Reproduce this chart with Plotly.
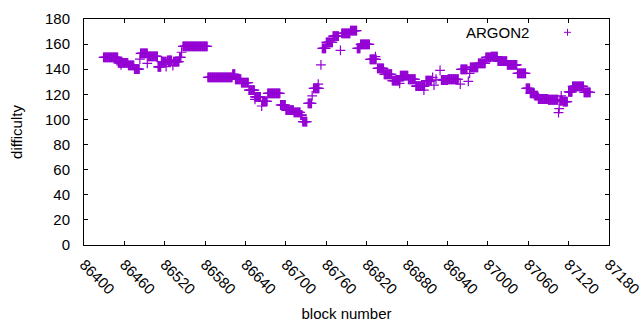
import plotly.graph_objects as go

# Runs of constant difficulty (first block, last block, value)
run_start = [86429, 86451, 86466, 86475, 86484, 86495, 86510, 86515, 86524, 86533,
             86542, 86547, 86584, 86621, 86625, 86634, 86645, 86654, 86665, 86673,
             86692, 86700, 86712, 86722, 86725, 86733, 86741, 86754, 86760, 86770,
             86783, 86796, 86806, 86811, 86825, 86836, 86846, 86858, 86870, 86882,
             86893, 86908, 86931, 86941, 86960, 86974, 86986, 86997, 87005, 87015,
             87029, 87044, 87057, 87063, 87070, 87075, 87090, 87107, 87112, 87120,
             87126, 87143]
run_end = [86450, 86465, 86474, 86482, 86494, 86509, 86514, 86522, 86530, 86541,
           86544, 86583, 86620, 86624, 86633, 86644, 86653, 86662, 86672, 86691,
           86699, 86711, 86721, 86724, 86731, 86738, 86749, 86759, 86769, 86778,
           86795, 86805, 86810, 86824, 86834, 86845, 86857, 86869, 86881, 86892,
           86906, 86916, 86940, 86956, 86969, 86985, 86996, 87004, 87014, 87028,
           87043, 87056, 87062, 87069, 87074, 87089, 87104, 87111, 87118, 87125,
           87142, 87152]
run_value = [149.5, 145, 143, 140, 152.7, 150.3, 141.8, 146, 147, 146,
             149.5, 158.2, 133.5, 136, 132, 129.3, 123.4, 117.9, 114.4, 120.8,
             111.5, 107.5, 105.7, 103.5, 98.2, 112.8, 124.8, 156.6, 161.4, 166.4,
             168.6, 170.7, 156.6, 159.8, 147.9, 140.7, 136, 130.9, 134.9, 132,
             126.6, 130.9, 131.4, 132, 139.9, 141.5, 144.7, 149.5, 150, 146.5,
             143.4, 136.7, 124.8, 120.8, 118.9, 116.3, 115.7, 115, 114.2, 121.9,
             126.4, 121.6]

# Isolated blocks
single_block = [86455, 86483, 86494, 86522, 86532, 86545, 86654, 86664, 86739, 86748,
                86752, 86781, 86833, 86869, 86905, 86918, 86920, 86923, 86929, 86959,
                86971, 86973, 87105, 87106, 87109]
single_value = [143.4, 148, 144.7, 142, 142.8, 153.5, 116, 110.7, 118.7, 128.2,
                143.4, 155, 150, 128.8, 123.4, 133.5, 127.4, 132, 139.1, 128.2,
                130.4, 136.7, 105.4, 108.6, 118.7]

x_ticks = list(range(86400, 87181, 60))
y_ticks = list(range(0, 181, 20))

blocks, values = [], []
for s, e, v in zip(run_start, run_end, run_value):
    for b in range(s, e + 1):
        blocks.append(b)
        values.append(v)
blocks += single_block
values += single_value

PURPLE = "#9400D3"
FONT = "Liberation Sans, Arial, sans-serif"

fig = go.Figure()
fig.add_trace(go.Scatter(
    x=blocks, y=values, mode="markers", name="ARGON2", showlegend=False, cliponaxis=False,
    marker=dict(symbol="cross-thin", size=7, line=dict(color=PURPLE, width=1.2), color=PURPLE),
))

axis_common = dict(
    showgrid=False, zeroline=False, showline=True, linecolor="black", linewidth=1,
    mirror="allticks", ticks="inside", ticklen=4, tickcolor="black", tickwidth=1,
    tickfont=dict(family=FONT, size=15, color="black"), automargin=False,
    ticklabeloverflow="allow",
)
fig.update_xaxes(range=[86400, 87180], tickvals=x_ticks, ticktext=[str(t) for t in x_ticks],
                 tickangle=45, ticklabelstandoff=4,
                 title=dict(text="block number", font=dict(family=FONT, size=15, color="black"), standoff=12),
                 **axis_common)
fig.update_yaxes(range=[0, 180], tickvals=y_ticks, ticklabelstandoff=10,
                 title=dict(text="difficulty", font=dict(family=FONT, size=15, color="black"), standoff=18),
                 **axis_common)

# legend key, gnuplot style (text then sample)
fig.add_annotation(x=0.851, y=0.941, xref="paper", yref="paper", text="ARGON2",
                   showarrow=False, xanchor="right", yanchor="middle",
                   font=dict(family=FONT, size=15, color="black"))
lx, ly, dx, dy = 0.921, 0.941, 3.5 / 524.6, 3.5 / 226
fig.add_shape(type="line", xref="paper", yref="paper", x0=lx - dx, x1=lx + dx, y0=ly, y1=ly,
              line=dict(color=PURPLE, width=1))
fig.add_shape(type="line", xref="paper", yref="paper", x0=lx, x1=lx, y0=ly - dy, y1=ly + dy,
              line=dict(color=PURPLE, width=1))

fig.update_layout(
    width=640, height=330, autosize=False,
    margin=dict(l=84.4, r=31, t=19, b=85),
    paper_bgcolor="white", plot_bgcolor="white",
    font=dict(family=FONT, size=15, color="black"),
)

fig.write_html("out.html", config={"displayModeBar": False},
               post_script="document.body.style.margin='0';")
